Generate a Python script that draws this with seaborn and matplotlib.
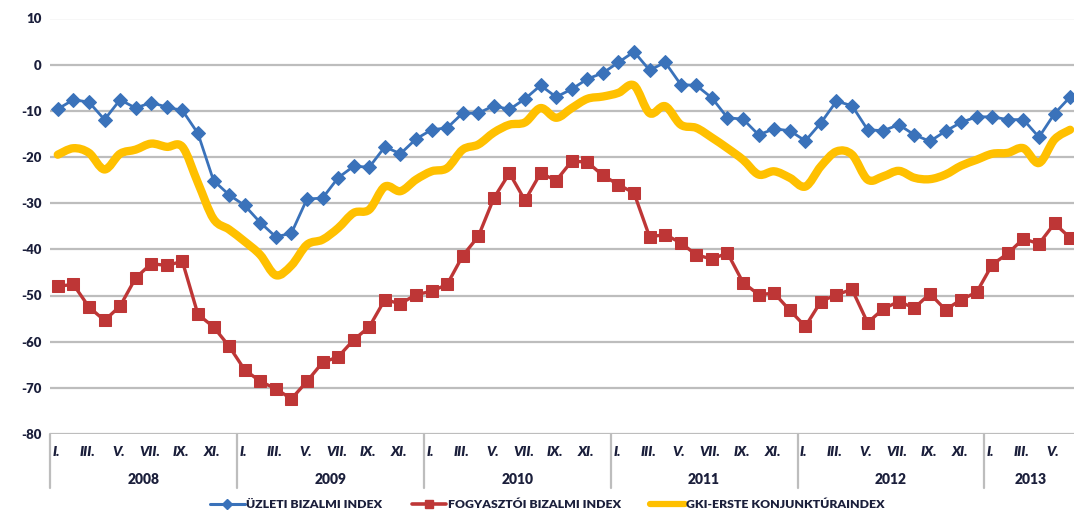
import numpy as np
import pandas as pd
import matplotlib
matplotlib.use("Agg")
import matplotlib.pyplot as plt
from matplotlib.path import Path
from matplotlib.patches import PathPatch
from matplotlib.lines import Line2D
import matplotlib.transforms as mtransforms
import seaborn as sns

# === adatok (2008 I. - 2013 VI.) ===
years = ["2008", "2009", "2010", "2011", "2012", "2013"]
months_in_year = [12, 12, 12, 12, 12, 6]
month_labels = ["I.", "II.", "III.", "IV.", "V.", "VI.", "VII.", "VIII.", "IX.", "X.", "XI.", "XII."]

uzleti = [
    -9.6, -7.6, -8.1, -11.9, -7.6, -9.4, -8.2, -9.2, -9.9, -14.9, -25.1, -28.2,
    -30.5, -34.2, -37.3, -36.5, -29.1, -28.9, -24.5, -22.0, -22.2, -17.8, -19.3, -16.1,
    -14.1, -13.7, -10.5, -10.5, -8.9, -9.7, -7.4, -4.5, -7.0, -5.3, -3.1, -1.8,
    0.5, 2.8, -1.2, 0.5, -4.3, -4.5, -7.2, -11.5, -11.8, -15.2, -13.9, -14.3,
    -16.5, -12.6, -7.9, -8.9, -14.1, -14.3, -13.0, -15.2, -16.6, -14.4, -12.5, -11.3,
    -11.3, -11.9, -11.9, -15.7, -10.6, -7.0,
]
fogyasztoi = [
    -48.0, -47.6, -52.5, -55.4, -52.3, -46.2, -43.1, -43.5, -42.6, -54.1, -56.8, -61.0,
    -66.1, -68.6, -70.2, -72.4, -68.6, -64.5, -63.3, -59.6, -56.8, -50.9, -51.8, -49.8,
    -49.1, -47.6, -41.4, -37.2, -28.9, -23.5, -29.4, -23.5, -25.1, -20.9, -21.1, -24.0,
    -26.0, -27.8, -37.3, -36.8, -38.6, -41.2, -42.1, -40.8, -47.2, -49.8, -49.5, -53.2,
    -56.7, -51.3, -49.8, -48.7, -55.9, -52.9, -51.3, -52.7, -49.6, -53.1, -50.9, -49.3,
    -43.3, -40.9, -37.7, -38.8, -34.4, -37.5,
]
gki_erste = [
    -19.5, -18.1, -19.1, -22.7, -19.3, -18.4, -17.1, -17.8, -17.8, -25.6, -33.4, -35.7,
    -38.3, -41.2, -45.6, -43.5, -39.0, -37.9, -35.4, -32.1, -31.4, -26.4, -27.4, -24.9,
    -23.1, -22.4, -18.4, -17.3, -14.7, -13.0, -12.5, -9.4, -11.5, -9.4, -7.4, -6.9,
    -6.1, -4.5, -10.5, -9.0, -13.0, -13.7, -15.8, -18.1, -20.6, -23.8, -23.1, -24.5,
    -26.4, -22.0, -18.8, -19.5, -24.9, -24.2, -23.0, -24.5, -24.8, -23.8, -21.9, -20.6,
    -19.3, -19.1, -18.1, -21.3, -16.2, -14.1,
]
series_names = ["Üzleti bizalmi index", "Fogyasztói bizalmi index", "GKI-Erste konjunktúraindex"]
colors = ["#3A72BA", "#BE3636", "#FFC000"]

# === kategóriák ===
periods = []
for y, n in zip(years, months_in_year):
    for m in range(n):
        periods.append((y, month_labels[m]))
x = np.arange(len(periods))
df = pd.DataFrame({"x": x, "uzleti": uzleti, "fogyasztoi": fogyasztoi, "gki": gki_erste})

# === stílus ===
sns.set_style("white")
plt.rcParams["font.family"] = ["Lato", "DejaVu Sans"]
text_color = "#1B1F3B"
grid_color = "#BDBDBD"

W, H = 1074, 514
fig = plt.figure(figsize=(W / 100, H / 100), dpi=100)
ax_left, ax_bottom, ax_top = 50, 434, 18.5
ax = fig.add_axes([ax_left / W, 1 - ax_bottom / H, (W - ax_left) / W, (ax_bottom - ax_top) / H])

ax.set_xlim(-0.5, 65.25)
ax.set_ylim(-80, 10)
ax.set_yticks(np.arange(-80, 11, 10))
ax.set_yticklabels([str(v) for v in range(-80, 11, 10)], fontsize=9.5, fontweight="heavy", color=text_color)
ax.tick_params(axis="y", length=0, pad=6)
ax.set_xticks([])
for v in range(-80, 11, 10):
    ax.axhline(v, color=grid_color, lw=1.6, zorder=0)
for s in ax.spines.values():
    s.set_visible(False)

# === GKI-Erste: simított vonal (Catmull-Rom -> Bezier) ===
pts = np.column_stack([df["x"], df["gki"]])
ext = np.vstack([pts[0], pts, pts[-1]])
verts = [tuple(pts[0])]
codes = [Path.MOVETO]
for i in range(len(pts) - 1):
    p0, p1, p2, p3 = ext[i], ext[i + 1], ext[i + 2], ext[i + 3]
    c1 = p1 + (p2 - p0) / 6.0
    c2 = p2 - (p3 - p1) / 6.0
    verts += [tuple(c1), tuple(c2), tuple(p2)]
    codes += [Path.CURVE4] * 3
ax.add_patch(PathPatch(Path(verts, codes), fill=False, edgecolor=colors[2], lw=6.0,
                       capstyle="round", joinstyle="round", zorder=2))

# === üzleti + fogyasztói ===
sns.lineplot(data=df, x="x", y="fogyasztoi", ax=ax, color=colors[1], lw=2.4,
             marker="s", markersize=8, markeredgecolor=colors[1], zorder=3)
sns.lineplot(data=df, x="x", y="uzleti", ax=ax, color=colors[0], lw=2.0,
             marker="D", markersize=7, markeredgecolor=colors[0], zorder=4)
ax.set_xlabel("")
ax.set_ylabel("")

# === kategória tengely (hónapok, évek) ===
trans = mtransforms.blended_transform_factory(ax.transData, ax.transAxes)
axh = ax_bottom - ax_top
sep_depth = -(488 - ax_bottom) / axh
month_y = -(452 - ax_bottom) / axh
year_y = -(479 - ax_bottom) / axh
start = 0
for y, n in zip(years, months_in_year):
    ax.plot([start - 0.5, start - 0.5], [0, sep_depth], transform=trans, color=grid_color,
            lw=1.6, clip_on=False)
    for m in range(0, n, 2):
        ax.text(start + m - 0.1, month_y, month_labels[m], transform=trans, ha="center", va="center",
                fontsize=10, fontweight="heavy", fontstyle="italic", color=text_color)
    ax.text(start + (n - 1) / 2, year_y, y, transform=trans, ha="center", va="center",
            fontsize=10, fontweight="heavy", color=text_color)
    start += n

# === jelmagyarázat ===
handles = [
    Line2D([], [], color=colors[0], lw=2.2, marker="D", markersize=5),
    Line2D([], [], color=colors[1], lw=2.6, marker="s", markersize=6),
    Line2D([], [], color=colors[2], lw=4.5),
]
leg = fig.legend(handles, [n.upper() for n in series_names], loc="center",
                 bbox_to_anchor=(0.51, 1 - 505 / H), ncol=3, frameon=False,
                 handlelength=2.8, handletextpad=0.15, columnspacing=2.4,
                 prop={"size": 8.8, "weight": "heavy"})
for t in leg.get_texts():
    t.set_color(text_color)

fig.savefig("out.png", dpi=100)
